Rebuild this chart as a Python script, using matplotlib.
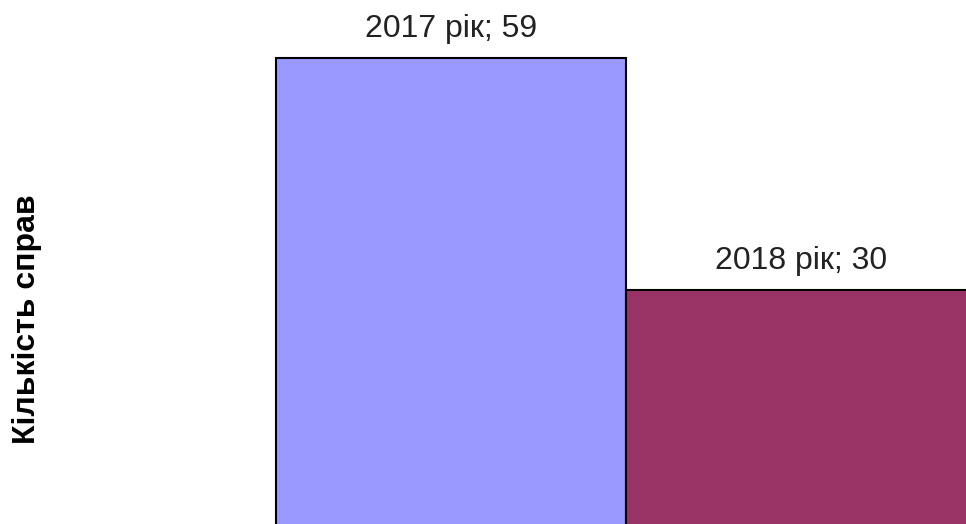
import matplotlib.pyplot as plt

# chart data
years = ["2017 рік", "2018 рік"]
cases = [59, 30]
colors = ["#9999FF", "#993366"]

plt.rcParams["font.family"] = ["Liberation Sans", "DejaVu Sans"]

fig = plt.figure(figsize=(9.66, 5.24), dpi=100)
ax = fig.add_axes([0, 0, 1, 1])

x = list(range(len(cases)))
ax.bar(x, cases, width=1.0, color=colors, edgecolor="black", linewidth=1.5)

# the original picture is cropped: zero is just below the bottom edge
ax.set_xlim(-1.2886, 1.4714)
ax.set_ylim(0.75, 66.25)
ax.axis("off")

for xi, year, val in zip(x, years, cases):
    ax.annotate(f"{year}; {val}", (xi, val), xytext=(0, 14.8), textcoords="offset points",
                ha="center", va="baseline", fontsize=23, color="#222222")

fig.text(27 / 966, 1 - 319 / 524, "Кількість справ", rotation=90, ha="center", va="center",
         fontsize=23, fontweight="bold", color="black")

fig.savefig("out.png", dpi=100)
